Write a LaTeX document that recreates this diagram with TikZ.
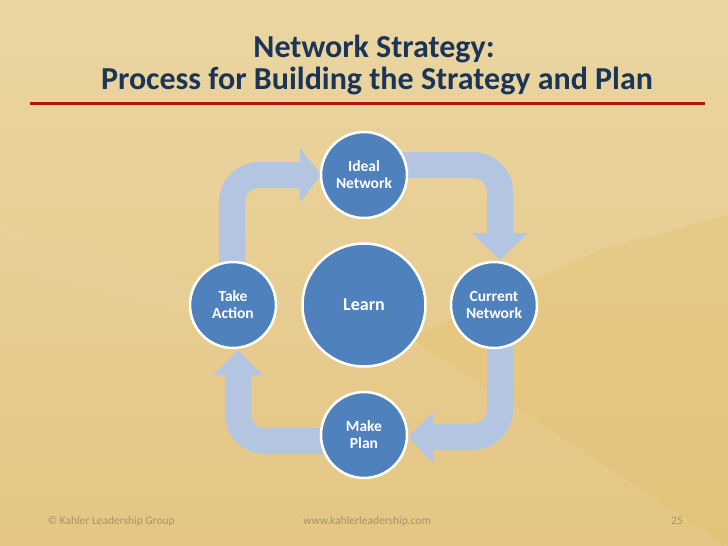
\documentclass[tikz,border=0pt]{standalone}
\usepackage{fontspec}
\setmainfont{Carlito}
\definecolor{bgtop}{HTML}{EAD5A2}
\definecolor{bgbot}{HTML}{E5C683}
\definecolor{bgdark}{HTML}{E0BD62}
\definecolor{navy}{HTML}{1B3558}
\definecolor{rule}{HTML}{B2140F}
\definecolor{arrowblue}{HTML}{B3C5E1}
\definecolor{circblue}{HTML}{4F81BD}
\definecolor{foot}{HTML}{A2946C}
\begin{document}
\begin{tikzpicture}[x=1pt,y=-1pt,
  band/.style={draw=arrowblue,line width=26pt,rounded corners=27pt},
  headtri/.style={fill=arrowblue},
  bubble/.style={circle,fill=circblue,draw=white,line width=2.5pt,text=white,
    font=\bfseries\fontsize{15.5}{17}\selectfont,align=center,inner sep=0pt},
  footer/.style={text=foot,font=\fontsize{11.5}{13}\selectfont,anchor=base},
  titletext/.style={text=navy,font=\bfseries\fontsize{32}{34}\selectfont,anchor=base}]
\useasboundingbox (0,0) rectangle (728,546);
% background
\shade[top color=bgtop,bottom color=bgbot] (0,0) rectangle (728,546);
\fill[bgdark,opacity=0.28] (410,338) -- (728,546) -- (728,215) -- (600,250) -- cycle;
\fill[white,opacity=0.04] (0,230) -- (260,300) -- (260,330) -- (0,270) -- cycle;
% title
\node[titletext] (t1) at (374,57) {Network Strategy:};
\node[titletext] (t2) at (377,89) {Process for Building the Strategy and Plan};
\draw[rule,line width=3pt] (30,103.5) coordinate (r1) -- (705,103.5) coordinate (r2);
% arrows (bands then heads)
\coordinate (a1s) at (232,285); \coordinate (a1c) at (232,175); \coordinate (a1e) at (301,175);
\coordinate (a2s) at (380,165); \coordinate (a2c) at (500,165); \coordinate (a2e) at (500,234);
\coordinate (a3s) at (500,330); \coordinate (a3c) at (500,437); \coordinate (a3e) at (432,437);
\coordinate (a4s) at (364,441); \coordinate (a4c) at (238,441); \coordinate (a4e) at (238,374);
\draw[band] (a1s) -- (a1c) -- (a1e);
\draw[band] (a2s) -- (a2c) -- (a2e);
\draw[band] (a3s) -- (a3c) -- (a3e);
\draw[band] (a4s) -- (a4c) -- (a4e);
\fill[headtri] (300,148) -- (321,175) -- (300,202) -- cycle;
\fill[headtri] (472,233) -- (500,260) -- (528,233) -- cycle;
\fill[headtri] (433,412) -- (408,437) -- (433,463) -- cycle;
\fill[headtri] (213,375) -- (238,350) -- (263,375) -- cycle;
% circles
\node[bubble,minimum size=86pt] (ideal) at (364,175) {Ideal\\Network};
\node[bubble,minimum size=123pt,font=\bfseries\fontsize{18}{21}\selectfont] (learn) at (364,305) {Learn};
\node[bubble,minimum size=86pt] (current) at (494,305) {Current\\Network};
\node[bubble,minimum size=86pt] (make) at (364,435) {Make\\Plan};
\node[bubble,minimum size=86pt] (take) at (233,305) {Take\\Action};
% footer
\node[footer,anchor=base west] (f1) at (44,524) {© Kahler Leadership Group};
\node[footer] (f2) at (367,524) {www.kahlerleadership.com};
\node[footer] (f3) at (677,524) {25};
\end{tikzpicture}
\end{document}
